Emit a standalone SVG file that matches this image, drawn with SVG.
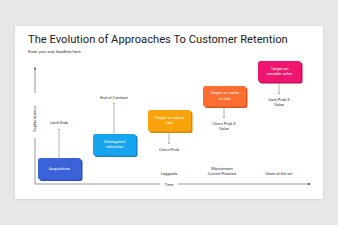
<svg xmlns="http://www.w3.org/2000/svg" width="338" height="225" viewBox="0 0 338 225">
<defs>
<style>
text{font-family:Roboto,"Liberation Sans",Arial,sans-serif;}
.lbl{font-size:4px;fill:#333;text-anchor:middle;}
.bt{font-size:4.3px;fill:#fff;text-anchor:middle;}
.ax{stroke:#555;stroke-width:0.6;fill:none;}
.cn{stroke:#444;stroke-width:0.4;fill:none;}
</style>
<marker id="ah" viewBox="0 0 6 6" refX="5" refY="3" markerWidth="4" markerHeight="4" orient="auto"><path d="M0,0.8 L6,3 L0,5.2 Z" fill="#444"/></marker>
<filter id="sh" x="-10%" y="-10%" width="120%" height="130%"><feDropShadow dx="0" dy="0.6" stdDeviation="0.8" flood-color="#000" flood-opacity="0.12"/></filter>
</defs>
<rect width="338" height="225" fill="#e8e7e8"/>
<rect x="15" y="26" width="308" height="173" fill="#fff" filter="url(#sh)"/>
<text x="28" y="43" font-size="11.2" fill="#222">The Evolution of Approaches To Customer Retention</text>
<text x="28" y="52.5" font-size="4.2" fill="#333">Enter your sub headline here</text>

<g id="axes">
<path class="ax" d="M35,184 V138 M35,93 V68"/>
<path d="M33.8,69.5 L35,66.5 L36.2,69.5 Z" fill="#555"/>
<path class="ax" d="M35,184 H160 M178,184 H309"/>
<path d="M308,182.8 L311,184 L308,185.2 Z" fill="#555"/>
<text class="lbl" x="169" y="185.5" font-size="4.3">Time</text>
<text class="lbl" transform="translate(36.3,119) rotate(-90)">Sophistication</text>
</g>

<g id="connectors">
<line class="cn" x1="59" y1="158" x2="59" y2="129" marker-end="url(#ah)"/>
<line class="cn" x1="114" y1="134" x2="114" y2="103" marker-end="url(#ah)"/>
<line class="cn" x1="169" y1="133" x2="169" y2="144" marker-end="url(#ah)"/>
<line class="cn" x1="224" y1="107" x2="224" y2="118" marker-end="url(#ah)"/>
<line class="cn" x1="279" y1="83" x2="279" y2="94" marker-end="url(#ah)"/>
</g>

<g id="acquisition">
<rect x="39.5" y="159.5" width="43" height="21.5" rx="2.5" fill="#2c4fb8"/>
<rect x="38" y="158" width="43" height="21.5" rx="2.5" fill="#3a63d9"/>
<text class="bt" x="59.5" y="170">Acquisition</text>
</g>
<g id="untargeted">
<rect x="94.5" y="135.5" width="43" height="21.5" rx="2.5" fill="#0f86c8"/>
<rect x="93" y="134" width="43" height="21.5" rx="2.5" fill="#16a6f0"/>
<text class="bt" x="114.5" y="142.5">Untargeted</text>
<text class="bt" x="114.5" y="148">retention</text>
</g>
<g id="churn">
<rect x="149.5" y="111.5" width="43" height="21.5" rx="2.5" fill="#d4870a"/>
<rect x="148" y="110" width="43" height="21.5" rx="2.5" fill="#f8a30c"/>
<text class="bt" x="169.5" y="118.5">Target on churn</text>
<text class="bt" x="169.5" y="124">risk</text>
</g>
<g id="value">
<rect x="204.5" y="87.5" width="43" height="20.5" rx="2.5" fill="#d9541e"/>
<rect x="203" y="86" width="43" height="20.5" rx="2.5" fill="#fb6d30"/>
<text class="bt" x="224.5" y="94">Target on value</text>
<text class="bt" x="224.5" y="99.5">at risk</text>
</g>
<g id="savable">
<rect x="259.5" y="62.5" width="43" height="21" rx="2.5" fill="#c40e58"/>
<rect x="258" y="61" width="43" height="21" rx="2.5" fill="#f0166f"/>
<text class="bt" x="279.5" y="69.5">Target on</text>
<text class="bt" x="279.5" y="75">savable value</text>
</g>

<g id="labels">
<text class="lbl" x="59" y="124">Land Grab</text>
<text class="lbl" x="114" y="99">End of Contract</text>
<text class="lbl" x="169" y="150.5">Churn Prob</text>
<text class="lbl" x="224" y="124.5">Churn Prob X</text>
<text class="lbl" x="224" y="130">Value</text>
<text class="lbl" x="279" y="100.5">Save Prob X</text>
<text class="lbl" x="279" y="106">Value</text>
<text class="lbl" x="169" y="175">Laggards</text>
<text class="lbl" x="222" y="170">Mainstream</text>
<text class="lbl" x="222" y="175">Current Practice</text>
<text class="lbl" x="279" y="175">State-of-the-art</text>
</g>
</svg>
